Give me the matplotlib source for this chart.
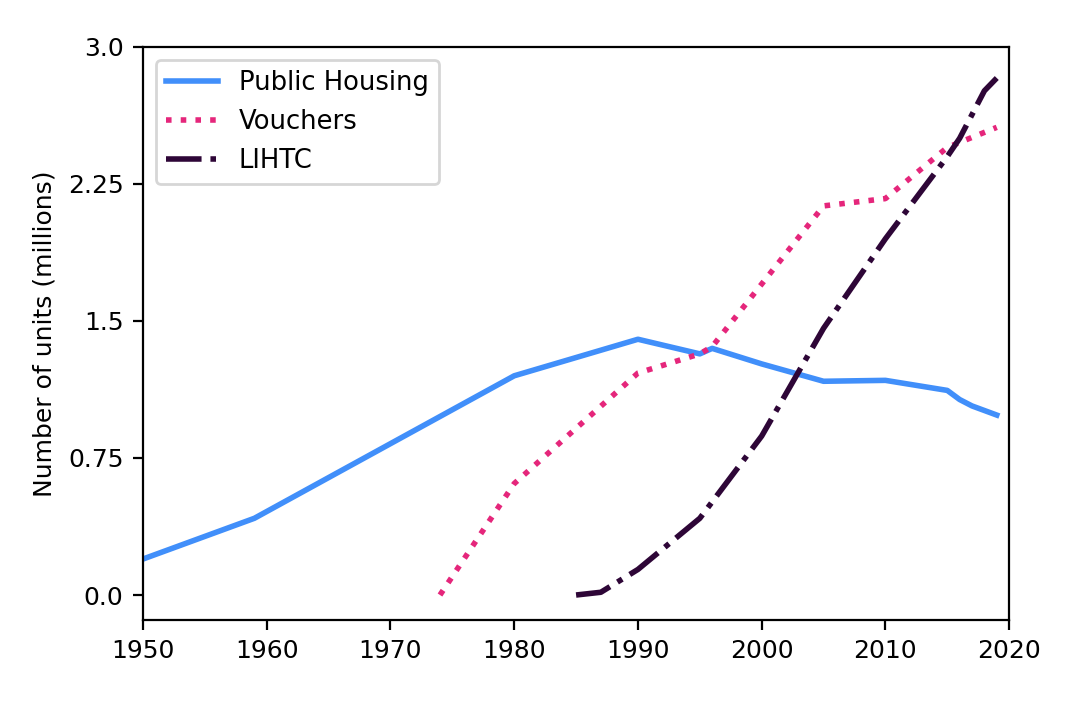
import matplotlib
matplotlib.use("Agg")
import matplotlib.pyplot as plt

ph_years = [1950, 1959, 1980, 1990, 1995, 1996, 2000, 2005, 2010, 2015, 2016, 2017, 2019]
ph_units = [0.197, 0.42, 1.20, 1.40, 1.32, 1.35, 1.265, 1.17, 1.175, 1.12, 1.07, 1.035, 0.985]

v_years = [1974, 1980, 1990, 1995, 1996, 2005, 2010, 2015, 2019]
v_units = [0.0, 0.61, 1.215, 1.32, 1.36, 2.13, 2.17, 2.45, 2.56]

l_years = [1985, 1987, 1990, 1995, 2000, 2005, 2010, 2015, 2016, 2017, 2018, 2019]
l_units = [0.0, 0.015, 0.14, 0.42, 0.87, 1.46, 1.95, 2.40, 2.50, 2.63, 2.76, 2.83]

y_ticks = [0.0, 0.75, 1.5, 2.25, 3.0]
y_tick_labels = ["0.0", "0.75", "1.5", "2.25", "3.0"]
x_ticks = [1950, 1960, 1970, 1980, 1990, 2000, 2010, 2020]

plt.rcParams["font.size"] = 9

fig = plt.figure(figsize=(5.345, 3.505), dpi=200)
ax = fig.add_axes([0.1338, 0.1155, 0.8102, 0.8175])

ax.plot(ph_years, ph_units, color="#418ffa", lw=2, linestyle="-", label="Public Housing")
ax.plot(v_years, v_units, color="#e5267b", lw=2, linestyle=":", label="Vouchers")
ax.plot(l_years, l_units, color="#2e0637", lw=2, linestyle="-.", label="LIHTC")

ax.set_xlim(1950, 2020)
ax.set_ylim(-0.137, 3.0)
ax.set_xticks(x_ticks)
ax.set_yticks(y_ticks)
ax.set_yticklabels(y_tick_labels)
ax.set_ylabel("Number of units (millions)")
ax.legend(loc="upper left", fontsize=9.3)

fig.savefig("out.png", dpi=200)
